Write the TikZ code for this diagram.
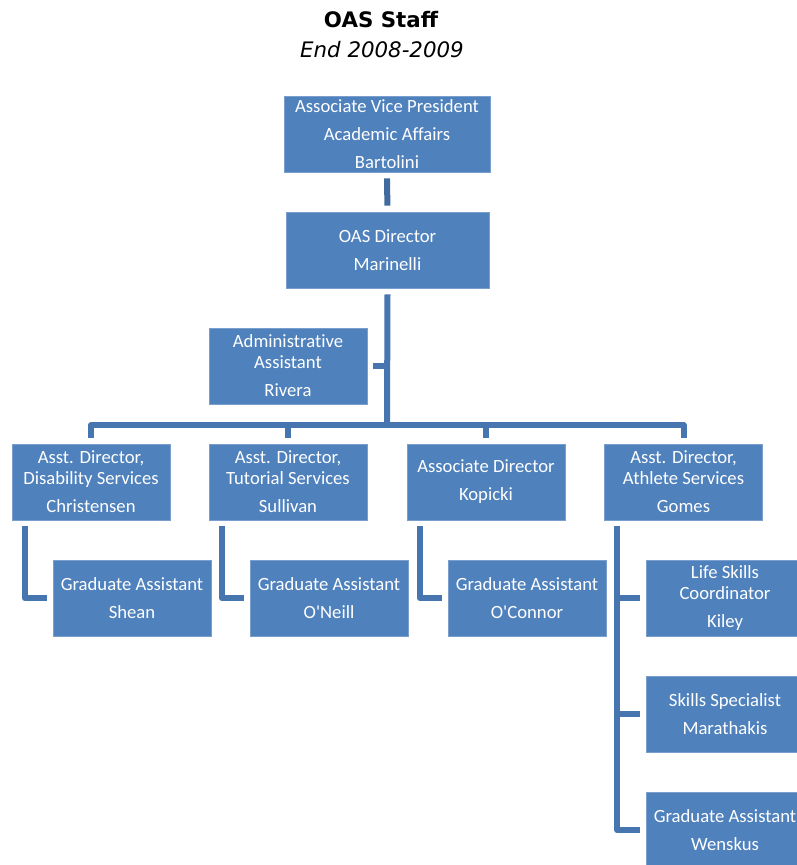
\documentclass[tikz,border=0pt]{standalone}
\usepackage{fontspec}
\setmainfont{Carlito}[Ligatures=NoCommon]
\newfontfamily\boxfont{Carlito}[Ligatures=NoCommon]
\newfontfamily\titlefont{DejaVu Sans}
\definecolor{boxfill}{HTML}{4F81BD}
\definecolor{boxedge}{HTML}{7A9FCE}
\definecolor{linecol}{HTML}{4775B0}
\tikzset{
  orgbox/.style={rectangle, fill=boxfill, draw=boxedge, line width=0.6pt,
    text=white, align=center, inner sep=0pt,
    minimum width=118.5pt, minimum height=57pt,
    font=\boxfont\fontsize{14}{15.75}\selectfont},
  conn/.style={draw=linecol, line width=4.5pt, line join=round,
    shorten <=0pt, shorten >=4.5pt},
}
\begin{document}
\begin{tikzpicture}[x=0.75pt, y=-0.75pt]
\useasboundingbox (0,0) rectangle (797,865);
\clip (0,0) rectangle (797,865);
% title
\node[font=\titlefont\bfseries\fontsize{16}{18}\selectfont] (title) at (381,20) {OAS Staff};
\node[font=\titlefont\itshape\fontsize{16}{18}\selectfont] (sub) at (382,50) {End 2008-2009};
% boxes
\node[orgbox, minimum width=154.5pt] (avp) at (387,134) {Associate Vice President\\[5.25pt]Academic Affairs\\[5.25pt]Bartolini};
\node[orgbox, minimum width=152.25pt] (dir) at (387.5,250) {OAS Director\\[5.25pt]Marinelli};
\node[orgbox] (adm) at (288,366) {Administrative\\Assistant\\[5.25pt]Rivera};
\node[orgbox] (c1) at (91,482) {Asst. Director,\\Disability Services\\[5.25pt]Christensen};
\node[orgbox] (c2) at (288,482) {Asst. Director,\\Tutorial Services\\[5.25pt]Sullivan};
\node[orgbox] (c3) at (486,482) {Associate Director\\[5.25pt]Kopicki};
\node[orgbox] (c4) at (683.5,482) {Asst. Director,\\Athlete Services\\[5.25pt]Gomes};
\node[orgbox] (g1) at (132,598) {Graduate Assistant\\[5.25pt]Shean};
\node[orgbox] (g2) at (329,598) {Graduate Assistant\\[5.25pt]O'Neill};
\node[orgbox] (g3) at (527,598) {Graduate Assistant\\[5.25pt]O'Connor};
\node[orgbox] (a1) at (725,598) {Life Skills\\Coordinator\\[5.25pt]Kiley};
\node[orgbox] (a2) at (725,714) {Skills Specialist\\[5.25pt]Marathakis};
\node[orgbox] (a3) at (725,830) {Graduate Assistant\\[5.25pt]Wenskus};
% connectors
\coordinate (bar) at (387,425);
\draw[conn, draw=linecol!90!black] (avp.south) ++(0,6) -- (dir.north);
\draw[conn, shorten >=0pt] (dir.south) ++(0,6) -- (bar);
\draw[conn] (bar) -| (c1.north);
\draw[conn] (bar) -| (c2.north);
\draw[conn] (bar) -| (c3.north);
\draw[conn] (bar) -| (c4.north);
\draw[conn, shorten >=0pt] (adm.east) ++(6,0) -- (adm.east -| bar);
\draw[conn] ([xshift=13*0.75pt]c1.south west) ++(0,6) |- (g1.west);
\draw[conn] ([xshift=13*0.75pt]c2.south west) ++(0,6) |- (g2.west);
\draw[conn] ([xshift=13*0.75pt]c3.south west) ++(0,6) |- (g3.west);
\draw[conn] ([xshift=13*0.75pt]c4.south west) ++(0,6) |- (a1.west);
\draw[conn] ([xshift=13*0.75pt]c4.south west) ++(0,6) |- (a2.west);
\draw[conn] ([xshift=13*0.75pt]c4.south west) ++(0,6) |- (a3.west);
\end{tikzpicture}
\end{document}
